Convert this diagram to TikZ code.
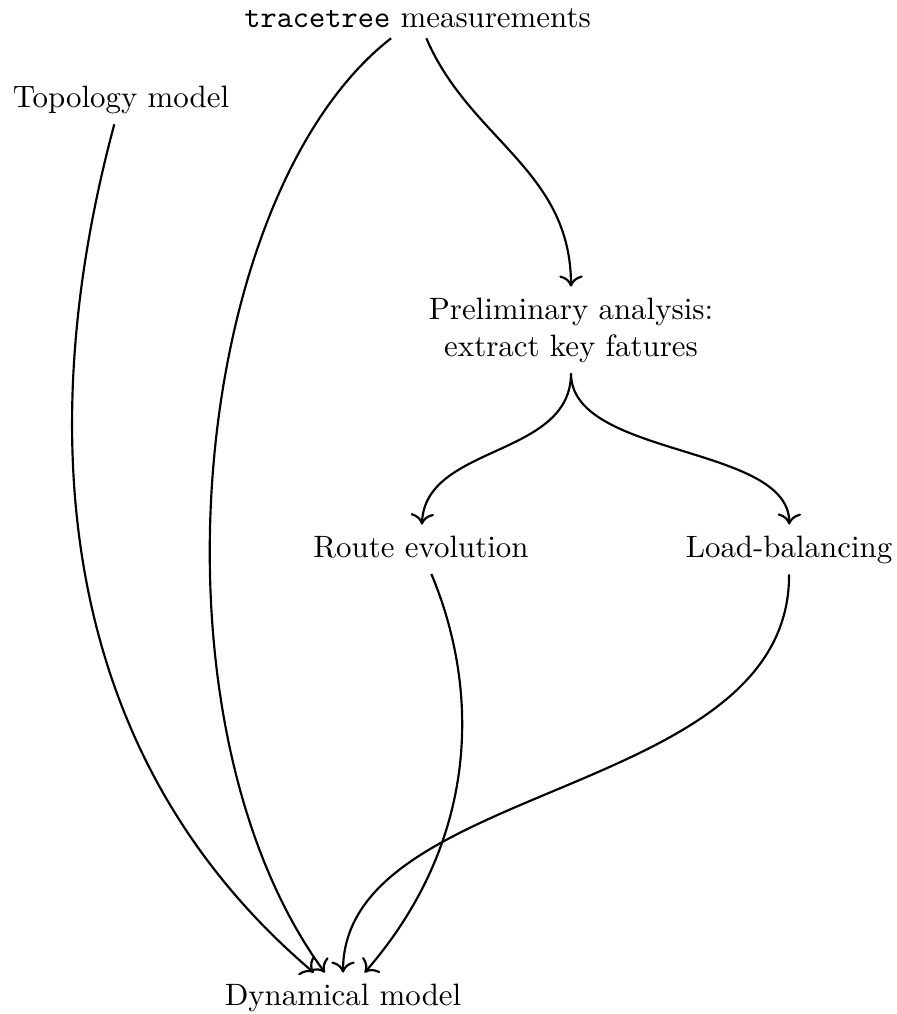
\documentclass[tikz,border=0pt]{standalone}
\usetikzlibrary{arrows.meta}
\begin{document}
\begin{tikzpicture}[x=0.3236pt,y=-0.3236pt,
  lbl/.style={inner sep=3.333pt},
  conn/.style={-{To[scale=1.15]},line width=0.7pt}]
\useasboundingbox (0,0) rectangle (896,1014);
\node[lbl,anchor=base] (tt) at (417.5,27) {\texttt{tracetree} measurements};
\node[lbl,anchor=base] (topo) at (121,107) {Topology model};
\node[lbl,align=center] (pre) at (571,330) {Preliminary analysis:\\extract key fatures};
\node[lbl,anchor=base,text depth=1.94pt] (route) at (421,557) {Route evolution};
\node[lbl,anchor=base] (load) at (789,557) {Load-balancing};
\node[lbl,anchor=base] (dyn) at (343,1005) {Dynamical model};
\draw[conn] (tt) .. controls (470,140) and (571,170) .. (pre);
\draw[conn] (tt) .. controls (190,195) and (140,720) .. (dyn);
\draw[conn] (topo) .. controls (40,400) and (40,740) .. (dyn);
\draw[conn] (pre) .. controls (571,458) and (425,444) .. (route);
\draw[conn] (pre) .. controls (571,458) and (790,444) .. (load);
\draw[conn] (route) .. controls (480,690) and (480,840) .. (dyn);
\draw[conn] (load) .. controls (790,800) and (343,780) .. (dyn);
\end{tikzpicture}
\end{document}
